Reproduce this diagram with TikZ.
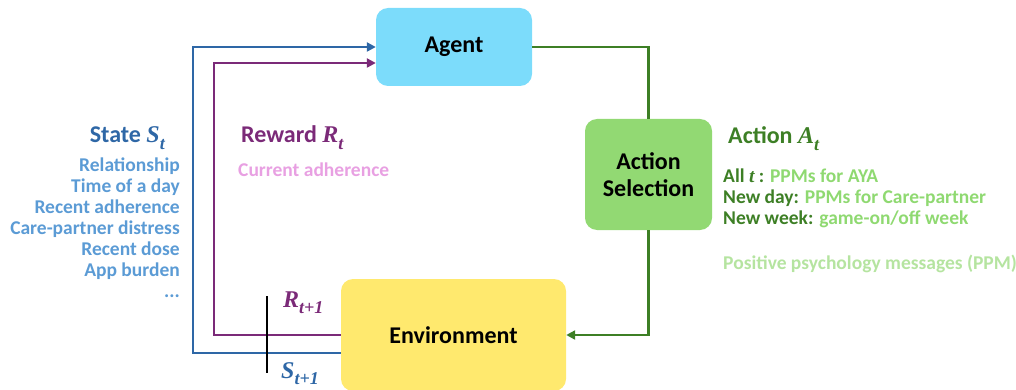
\documentclass[tikz,border=0pt]{standalone}
\usepackage{fontspec}
\setmainfont{Carlito}
\newfontfamily\mathfnt{Liberation Serif}
\usetikzlibrary{arrows.meta}
\definecolor{agentc}{HTML}{7CDCFB}
\definecolor{actc}{HTML}{92D973}
\definecolor{envc}{HTML}{FFE96E}
\definecolor{sblue}{HTML}{2E67A6}
\definecolor{lblue}{HTML}{5B9BD5}
\definecolor{rpurp}{HTML}{7B2A78}
\definecolor{lpink}{HTML}{E8A0E2}
\definecolor{agreen}{HTML}{3D7F25}
\definecolor{lgreen}{HTML}{8FD971}
\definecolor{vlgreen}{HTML}{B5E4A0}
\newcommand\mvar[2]{{\mathfnt\bfseries\itshape #1}\raisebox{-0.28em}{\fontsize{18}{18}\mathfnt\bfseries\itshape #2}}
\tikzset{
  box/.style={rounded corners=12pt, inner sep=0pt, font=\fontsize{24}{26.5}\selectfont\bfseries},
  conn/.style={line width=2.9pt},
  tip/.style={-{Triangle[length=9pt,width=9pt]}},
  lbl/.style={inner sep=0pt, font=\fontsize{19.5}{21}\selectfont\bfseries},
  ttl/.style={inner sep=0pt, font=\fontsize{24}{26}\selectfont\bfseries},
}
\begin{document}
\begin{tikzpicture}[x=1pt,y=-1pt]
\useasboundingbox (0,0) rectangle (1016,390);
% boxes
\node[box, fill=agentc, minimum width=156pt, minimum height=78pt] (agent) at (454,47) {Agent};
\node[box, fill=actc, minimum width=127pt, minimum height=111pt, align=center] (act) at (648.5,174.5) {Action\\Selection};
\node[box, fill=envc, minimum width=225pt, minimum height=112pt] (env) at (453.5,335) {Environment};
% corner coordinates
\coordinate (bx) at (193,200);
\coordinate (px) at (214,200);
% connectors
\draw[conn, agreen] (agent.east) -| (act.north);
\draw[conn, agreen, tip] (act.south) |- (env.east);
\draw[conn, rpurp, tip] ([yshift=0pt]env.west) -| (px) |- ([yshift=-16pt]agent.west);
\draw[conn, sblue, tip] ([yshift=-18pt]env.west) -| (bx) |- (agent.west);
% separator
\coordinate (sep1) at (267,296);
\coordinate (sep2) at (267,373);
\draw[line width=2.9pt, black] (sep1) -- (sep2);
\node[ttl, rpurp, anchor=base west] (r1) at (283,307) {\mvar{R}{t+1}};
\node[ttl, sblue, anchor=base west] (s1) at (281,378) {\mvar{S}{t+1}};
% state
\node[ttl, sblue, anchor=base east] (st) at (165,143) {State \mvar{S}{t}};
\node[lbl, lblue, anchor=north east, align=right] (slist) at (180,158) {Relationship\\Time of a day\\Recent adherence\\Care-partner distress\\Recent dose\\App burden\\...};
% reward
\node[ttl, rpurp, anchor=base west] (rt) at (241,143) {Reward \mvar{R}{t}};
\node[lbl, lpink, anchor=base west] (ca) at (238,176) {Current adherence};
% action
\node[ttl, agreen, anchor=base west] (at) at (728,144) {Action \mvar{A}{t}};
\node[lbl, anchor=north west, align=left] (alist) at (723,169) {\textcolor{agreen}{All {\mathfnt\itshape t} :} \textcolor{lgreen}{PPMs for AYA}\\\textcolor{agreen}{New day:} \textcolor{lgreen}{PPMs for Care-partner}\\\textcolor{agreen}{New week:} \textcolor{lgreen}{game-on/off week}};
\node[lbl, vlgreen, anchor=base west] (ppm) at (723,269) {Positive psychology messages (PPM)};
\end{tikzpicture}
\end{document}
